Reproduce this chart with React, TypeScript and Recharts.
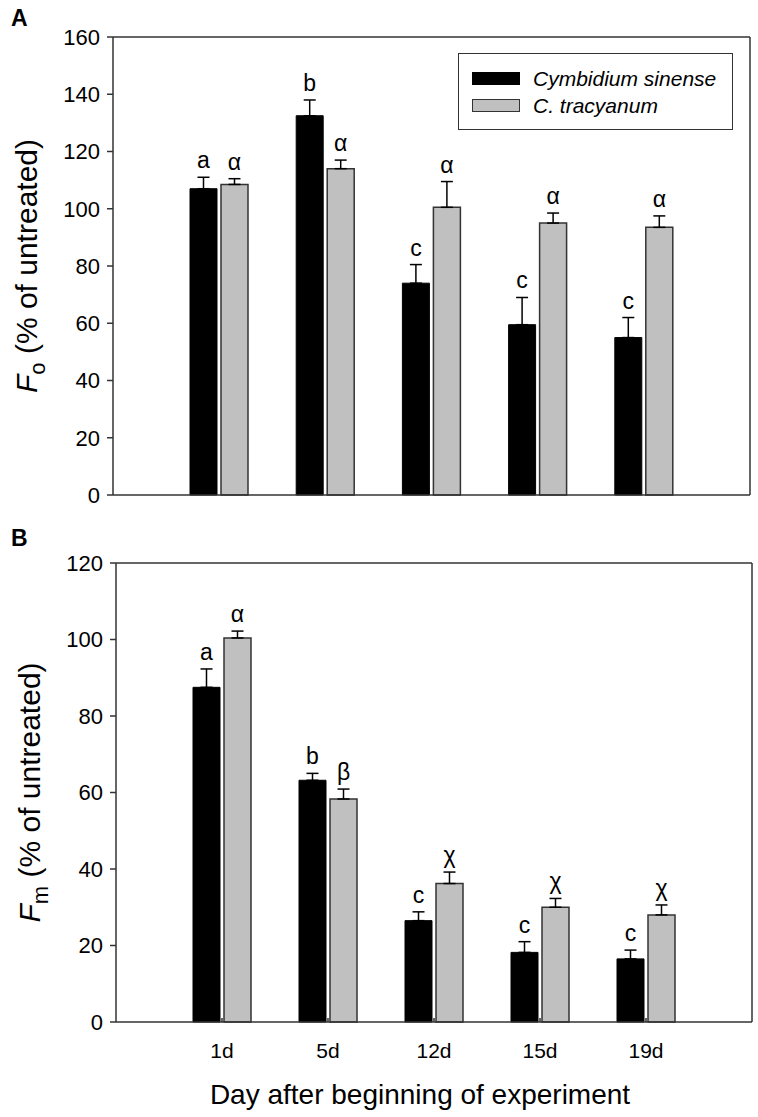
import React from "react";
import { Bar, BarChart, CartesianGrid, ErrorBar, LabelList, Legend, XAxis, YAxis, Label } from "recharts";

const days = ["1d", "5d", "12d", "15d", "19d"];
const seriesNames = ["Cymbidium sinense", "C. tracyanum"];
const seriesFills = ["#000", "#c0c0c0"];

// panel A: Fo
const foSinense = [107, 132.5, 74, 59.5, 55];
const foSinenseErr = [4, 5.5, 6.5, 9.5, 7];
const foTracyanum = [108.5, 114, 100.5, 95, 93.5];
const foTracyanumErr = [2, 3, 9, 3.5, 4];
const foSinenseLetters = ["a", "b", "c", "c", "c"];
const foTracyanumLetters = ["α", "α", "α", "α", "α"];
const foTicks = [0, 20, 40, 60, 80, 100, 120, 140, 160];

// panel B: Fm
const fmSinense = [87.5, 63.2, 26.5, 18.2, 16.5];
const fmSinenseErr = [4.8, 1.8, 2.3, 2.8, 2.3];
const fmTracyanum = [100.4, 58.3, 36.2, 30, 28];
const fmTracyanumErr = [1.8, 2.6, 3, 2.3, 2.6];
const fmSinenseLetters = ["a", "b", "c", "c", "c"];
const fmTracyanumLetters = ["α", "β", "χ", "χ", "χ"];
const fmTicks = [0, 20, 40, 60, 80, 100, 120];

const FONT = '"Liberation Sans", Arial, sans-serif';
const AXIS = "#333";

const buildRows = (a: number[], aErr: number[], b: number[], bErr: number[]) =>
  days.map((day, i) => ({
    day,
    sin: a[i],
    tra: b[i],
    sinErr: [0, aErr[i]],
    traErr: [0, bErr[i]],
  }));

const letterMark = (letters: string[], errs: number[]) => (props: any) => {
  const vb = props.viewBox ?? props;
  const { x, y, width, height } = vb;
  const v = Number(props.value);
  const idx = props.index ?? 0;
  const top = y - (errs[idx] * height) / v;
  return (
    <text x={x + width / 2} y={top - 9} textAnchor="middle" fontSize={23} fontFamily={FONT} fill="#000">
      {letters[idx]}
    </text>
  );
};

const yTitle = (sub: string) => (props: any) => {
  const vb = props.viewBox;
  const cx = vb.x + vb.width - 76;
  const cy = vb.y + vb.height / 2;
  return (
    <text x={cx} y={cy} transform={`rotate(-90, ${cx}, ${cy})`} textAnchor="middle" fontSize={30} fontFamily={FONT} fill="#000">
      <tspan fontStyle="italic">F</tspan>
      <tspan dy={8} fontSize={22}>{sub}</tspan>
      <tspan dy={-8}> (% of untreated)</tspan>
    </text>
  );
};

const LegendBox = () => (
  <div style={{ border: `1.5px solid ${AXIS}`, width: 275, height: 77, boxSizing: "border-box", background: "#fff", paddingTop: 11, paddingLeft: 13 }}>
    {seriesNames.map((name, i) => (
      <div key={name} style={{ display: "flex", alignItems: "center", height: 27 }}>
        <div style={{ width: 48, height: 13, background: seriesFills[i], border: `1.5px solid ${i ? AXIS : "#000"}`, boxSizing: "border-box", marginRight: 13 }} />
        <span style={{ fontFamily: FONT, fontStyle: "italic", fontSize: 21, color: "#000" }}>{name}</span>
      </div>
    ))}
  </div>
);

type PanelProps = {
  rows: any[];
  ticks: number[];
  max: number;
  sub: string;
  width: number;
  height: number;
  margin: { top: number; right: number; bottom: number; left: number };
  showDays: boolean;
  xHeight: number;
  sinLetters: string[];
  traLetters: string[];
  sinErr: number[];
  traErr: number[];
  legend?: boolean;
};

function Panel(p: PanelProps) {
  return (
    <BarChart width={p.width} height={p.height} data={p.rows} margin={p.margin} barSize={27} barGap={4}>
      {/* top and right edges of the frame */}
      <CartesianGrid
        stroke={AXIS}
        strokeWidth={1.5}
        horizontalCoordinatesGenerator={({ offset }: any) => [offset.top]}
        verticalCoordinatesGenerator={({ offset }: any) => [offset.left + offset.width]}
      />
      <XAxis
        dataKey="day"
        padding={{ left: 53, right: 53 }}
        stroke={AXIS}
        strokeWidth={1.5}
        tickSize={-4}
        tickMargin={25}
        height={p.xHeight}
        tick={p.showDays ? { fill: "#000", fontSize: 21, fontFamily: FONT } : false}
      >
        {p.showDays && (
          <Label value="Day after beginning of experiment" position="insideBottom" offset={13} dx={-14} fontSize={28} fontFamily={FONT} fill="#000" />
        )}
      </XAxis>
      <YAxis
        domain={[0, p.max]}
        ticks={p.ticks}
        width={70}
        stroke={AXIS}
        strokeWidth={1.5}
        tickSize={6}
        tickMargin={7}
        tick={{ fill: "#000", fontSize: 22, fontFamily: FONT }}
        interval={0}
      >
        <Label content={yTitle(p.sub)} />
      </YAxis>
      {p.legend && (
        <Legend
          layout="vertical"
          align="center"
          verticalAlign="middle"
          content={<LegendBox />}
          wrapperStyle={{ top: 53, left: 458, width: 275, height: 77 }}
        />
      )}
      <Bar dataKey="sin" name={seriesNames[0]} fill={seriesFills[0]} stroke="#000" strokeWidth={1} isAnimationActive={false}>
        <ErrorBar dataKey="sinErr" width={6} stroke="#000" strokeWidth={1.5} direction="y" />
        <LabelList dataKey="sin" content={letterMark(p.sinLetters, p.sinErr)} />
      </Bar>
      <Bar dataKey="tra" name={seriesNames[1]} fill={seriesFills[1]} stroke={AXIS} strokeWidth={1.5} isAnimationActive={false}>
        <ErrorBar dataKey="traErr" width={6} stroke="#000" strokeWidth={1.5} direction="y" />
        <LabelList dataKey="tra" content={letterMark(p.traLetters, p.traErr)} />
      </Bar>
    </BarChart>
  );
}

export default function App() {
  const rowsA = buildRows(foSinense, foSinenseErr, foTracyanum, foTracyanumErr);
  const rowsB = buildRows(fmSinense, fmSinenseErr, fmTracyanum, fmTracyanumErr);
  const panelLabel: React.CSSProperties = { position: "absolute", left: 11, fontFamily: FONT, fontWeight: "bold", fontSize: 23 };
  return (
    <div style={{ position: "absolute", top: 0, left: 0, width: 758, height: 1117, background: "#fff" }}>
      <div style={{ ...panelLabel, top: 5 }}>A</div>
      <div style={{ ...panelLabel, top: 525 }}>B</div>
      <div style={{ position: "absolute", top: 0, left: 0 }}>
        <Panel
          rows={rowsA}
          ticks={foTicks}
          max={160}
          sub="o"
          width={758}
          height={530}
          margin={{ top: 37, right: 8, bottom: 0, left: 43 }}
          showDays={false}
          xHeight={35}
          sinLetters={foSinenseLetters}
          traLetters={foTracyanumLetters}
          sinErr={foSinenseErr}
          traErr={foTracyanumErr}
          legend
        />
      </div>
      <div style={{ position: "absolute", top: 530, left: 0 }}>
        <Panel
          rows={rowsB}
          ticks={fmTicks}
          max={120}
          sub="m"
          width={758}
          height={587}
          margin={{ top: 33, right: 6, bottom: 0, left: 46 }}
          showDays
          xHeight={95}
          sinLetters={fmSinenseLetters}
          traLetters={fmTracyanumLetters}
          sinErr={fmSinenseErr}
          traErr={fmTracyanumErr}
        />
      </div>
    </div>
  );
}
